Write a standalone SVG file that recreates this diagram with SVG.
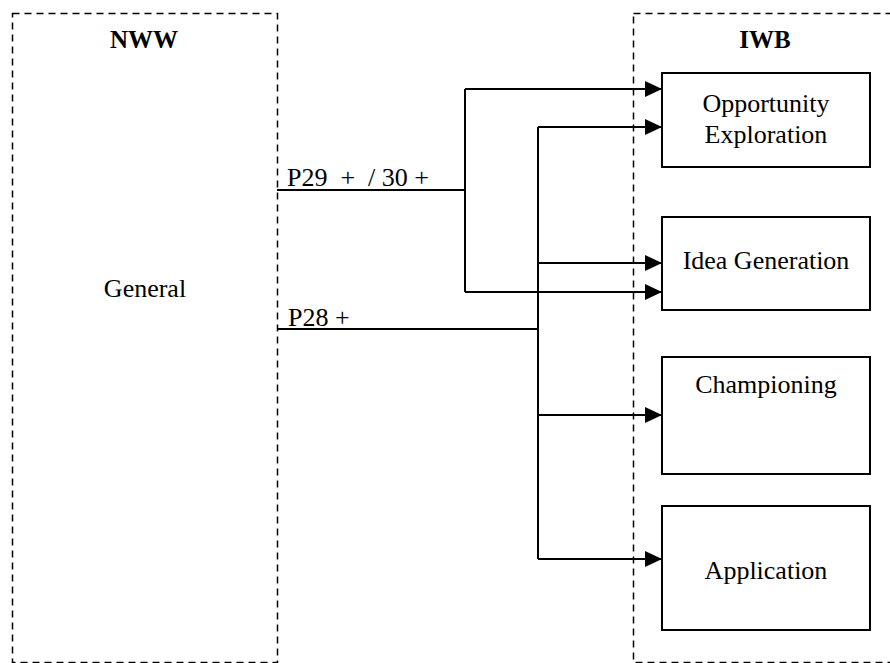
<svg xmlns="http://www.w3.org/2000/svg" width="890" height="663" viewBox="0 0 890 663">
<style>
.grp{fill:none;stroke:#000;stroke-width:1.5;stroke-dasharray:7 5}
.box{fill:#fff;stroke:#000;stroke-width:2}
.t{font-family:"Liberation Serif","Times New Roman",serif;font-size:26px;fill:#000}
.tb{font-family:"Liberation Serif","Times New Roman",serif;font-size:25px;font-weight:bold;fill:#000}
.c{text-anchor:middle}
.ln{fill:none;stroke:#000;stroke-width:2}
</style>
<defs>
<marker id="ah" markerUnits="userSpaceOnUse" markerWidth="18" markerHeight="16" refX="17" refY="8" orient="auto">
<path d="M0,0 L17,8 L0,16 Z" fill="#000"/>
</marker>
</defs>
<g id="nww">
<rect class="grp" x="12.5" y="13.5" width="265" height="649"/>
<text class="tb c" x="144" y="48">NWW</text>
<text class="t c" x="145" y="297">General</text>
</g>
<g id="iwb">
<rect class="grp" x="633.5" y="13.5" width="280" height="649"/>
<text class="tb c" x="765" y="48">IWB</text>
</g>
<g id="opp">
<rect class="box" x="662" y="73" width="208" height="94"/>
<text class="t c" x="766" y="112">Opportunity</text>
<text class="t c" x="766" y="143">Exploration</text>
</g>
<g id="idea">
<rect class="box" x="662" y="217" width="208" height="93"/>
<text class="t c" x="766" y="269">Idea Generation</text>
</g>
<g id="champ">
<rect class="box" x="662" y="357" width="208" height="117"/>
<text class="t c" x="766" y="393">Championing</text>
</g>
<g id="appl">
<rect class="box" x="662" y="506" width="208" height="124"/>
<text class="t c" x="766" y="579">Application</text>
</g>
<g id="connectors">
<polyline class="ln" points="277,190 465,190"/>
<polyline class="ln" points="465,89 465,292"/>
<line class="ln" x1="465" y1="89" x2="662" y2="89" marker-end="url(#ah)"/>
<line class="ln" x1="465" y1="292" x2="662" y2="292" marker-end="url(#ah)"/>
<polyline class="ln" points="277,329 538,329"/>
<polyline class="ln" points="538,127 538,559"/>
<line class="ln" x1="538" y1="127" x2="662" y2="127" marker-end="url(#ah)"/>
<line class="ln" x1="538" y1="263" x2="662" y2="263" marker-end="url(#ah)"/>
<line class="ln" x1="538" y1="415" x2="662" y2="415" marker-end="url(#ah)"/>
<line class="ln" x1="538" y1="559" x2="662" y2="559" marker-end="url(#ah)"/>
<text class="t" x="287" y="186" xml:space="preserve">P29  +  / 30 +</text>
<text class="t" x="288" y="326">P28 +</text>
</g>
</svg>
